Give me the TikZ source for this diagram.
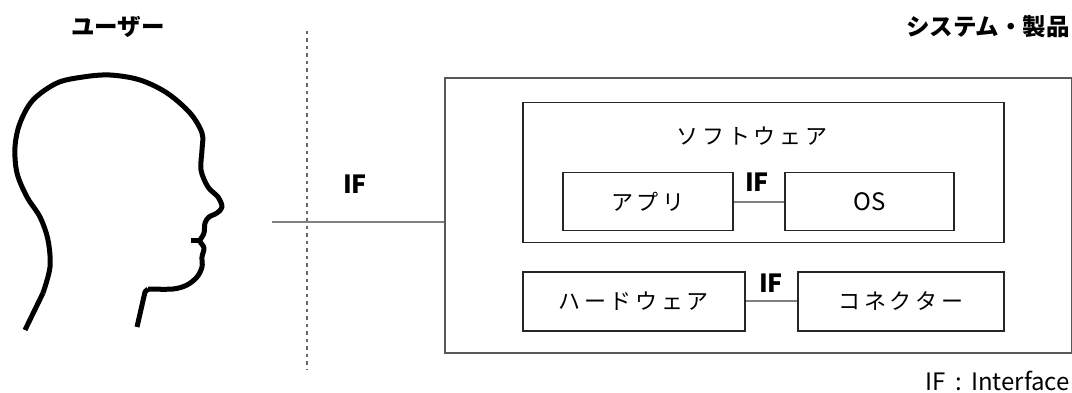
\documentclass[tikz,border=0pt]{standalone}
\usepackage{fontspec}
\setmainfont{Noto Sans CJK JP}
\begin{document}
\begin{tikzpicture}[x=1pt,y=-1pt,
  every node/.style={inner sep=0pt, font=\fontsize{22}{24}\selectfont},
  outerbox/.style={draw=black!65, line width=2pt},
  partbox/.style={draw=black!85, line width=1.5pt},
  link/.style={draw=black!50, line width=2pt},
  title/.style={font=\fontsize{23.5}{25}\selectfont\bfseries},
  iflabel/.style={font=\fontsize{25}{27}\selectfont\bfseries},
  latin/.style={font=\fontsize{24}{26}\selectfont},
  head/.style={line width=5pt, line join=round, line cap=butt}]
\useasboundingbox (0,0) rectangle (1072,393);

% titles
\node[title] (user) at (118,27) {ユーザー};
\node[title, anchor=east] (sys) at (1070,27) {システム・製品};

% boundary between user and system
\draw[black!60, line width=1.5pt, dash pattern=on 3.5pt off 4pt] (307,31) -- (307,369);

% head in profile
\draw[head] (25,330) -- (43,293);
\draw[head] plot[smooth, tension=0.55] coordinates {
  (43,293) (50,267) (48,240) (40,217) (27,197) (17,173) (15,147) (20,123)
  (33,100) (57,83) (83,77) (110,75) (140,80) (167,93) (190,113) (202,133)
  (202,150) (201,170) (208,187) (218,197) (222,207) (217,213) (209,217)
  (205,223) (204,233) (200,240)};
\draw[head] (191,241) -- (202,241);
\draw[head] plot[smooth, tension=0.55] coordinates {
  (200,242) (204,248) (202,257) (202,267) (197,277) (187,285) (173,289) (148,289)};
\draw[head] (148,289) -- (145,292) -- (137,327);

% system side
\node[outerbox, minimum width=627pt, minimum height=275pt, anchor=north west] (system) at (444,77) {};
\node[partbox, minimum width=481pt, minimum height=140pt, anchor=north west] (software) at (522,102) {};
\node (swlabel) at (752,136) {ソ\,フ\,ト\,ウ\,ェ\,ア};
\node[partbox, minimum width=170pt, minimum height=58pt, anchor=north west] (app) at (562,172) {ア\,プ\,リ};
\node[partbox, latin, minimum width=169pt, minimum height=58pt, anchor=north west] (os) at (784,172) {OS};
\node[partbox, minimum width=222pt, minimum height=59pt, anchor=north west] (hw) at (522,271) {ハ\,ー\,ド\,ウ\,ェ\,ア};
\node[partbox, minimum width=206pt, minimum height=59pt, anchor=north west] (conn) at (797,271) {コ\,ネ\,ク\,タ\,ー};

% interfaces
\coordinate (userside) at (272,222);
\draw[link] (userside) -- (userside -| system.west);
\draw[link] (app.east) -- (os.west);
\draw[link] (hw.east) -- (conn.west);
\node[iflabel] (ifuser) at (355,184) {IF};
\node[iflabel] (ifsw) at (757,182) {IF};
\node[iflabel] (ifhw) at (771,283) {IF};

% legend
\node[latin, anchor=east] (legend) at (1070,381) {IF\ \,:\ \,Interface};
\end{tikzpicture}
\end{document}
